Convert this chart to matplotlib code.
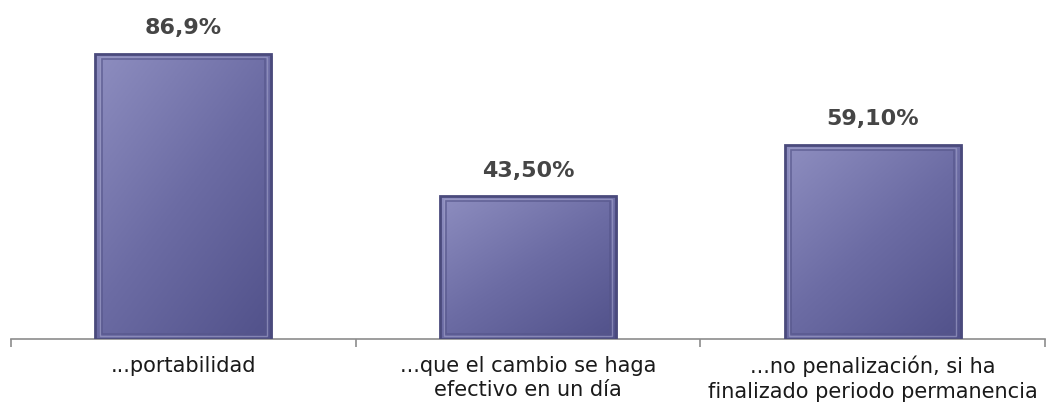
import numpy as np
import matplotlib
matplotlib.use("Agg")
import matplotlib.pyplot as plt
from matplotlib.patches import Rectangle
from matplotlib.colors import LinearSegmentedColormap

categories = ["...portabilidad",
              "...que el cambio se haga\nefectivo en un día",
              "...no penalización, si ha\nfinalizado periodo permanencia"]
values = [86.9, 43.5, 59.1]
value_labels = ["86,9%", "43,50%", "59,10%"]

plt.rcParams["font.family"] = ["DejaVu Sans"]

fig = plt.figure(figsize=(10.47, 4.08), dpi=100)
ax = fig.add_axes([11 / 1047, 69 / 408, 1034 / 1047, 328 / 408])
ax.set_xlim(-0.5, 2.5)
ax.set_ylim(0, 100)

bar_w = 0.51
cmap = LinearSegmentedColormap.from_list("barfill", ["#8e8ec0", "#6c6ca4", "#51518a"])

# diagonal gradient image reused inside each bar
gy, gx = np.mgrid[0:1:200j, 0:1:200j]
grad = 0.55 * gy + 0.45 * gx

bars = ax.bar(range(len(values)), values, width=bar_w, color="none",
              edgecolor="none", zorder=2)
for bar, lab in zip(bars, value_labels):
    x0, w, h = bar.get_x(), bar.get_width(), bar.get_height()
    # soft shadow to the right / bottom
    ax.add_patch(Rectangle((x0 + 0.006, 0), w, h - 0.6, facecolor="#c8c8d0",
                           edgecolor="none", zorder=1, clip_on=False))
    im = ax.imshow(grad, cmap=cmap, extent=(x0, x0 + w, 0, h), origin="upper",
                   aspect="auto", zorder=2, interpolation="bilinear")
    im.set_clip_path(bar)
    # beveled border
    ax.add_patch(Rectangle((x0, 0), w, h, facecolor="none",
                           edgecolor="#4a4a7c", lw=2.0, zorder=3))
    ax.add_patch(Rectangle((x0 + 0.012, 0.9), w - 0.024, h - 1.8, facecolor="none",
                           edgecolor="#9a9ac4", lw=1.0, zorder=3, alpha=0.7))
    ax.add_patch(Rectangle((x0 + 0.018, 1.5), w - 0.036, h - 3.0, facecolor="none",
                           edgecolor="#55558a", lw=1.2, zorder=3, alpha=0.7))
    ax.annotate(lab, (x0 + w / 2, h), xytext=(0, 18.5), textcoords="offset points",
                ha="center", va="center", fontsize=16, fontweight="bold",
                color="#454545")

for s in ["top", "right", "left"]:
    ax.spines[s].set_visible(False)
ax.spines["bottom"].set_color("#8c8c8c")
ax.spines["bottom"].set_linewidth(1.2)
ax.set_yticks([])

ax.set_xticks([-0.5, 0.5, 1.5, 2.5])
ax.set_xticklabels([])
ax.tick_params(axis="x", length=6, width=1.2, color="#8c8c8c")
ax.set_xticks(range(len(categories)), minor=True)
ax.set_xticklabels(categories, minor=True, fontsize=15, color="#1a1a1a",
                   linespacing=1.3)
ax.tick_params(axis="x", which="minor", length=0, pad=12)

fig.savefig("out.png", dpi=100)
